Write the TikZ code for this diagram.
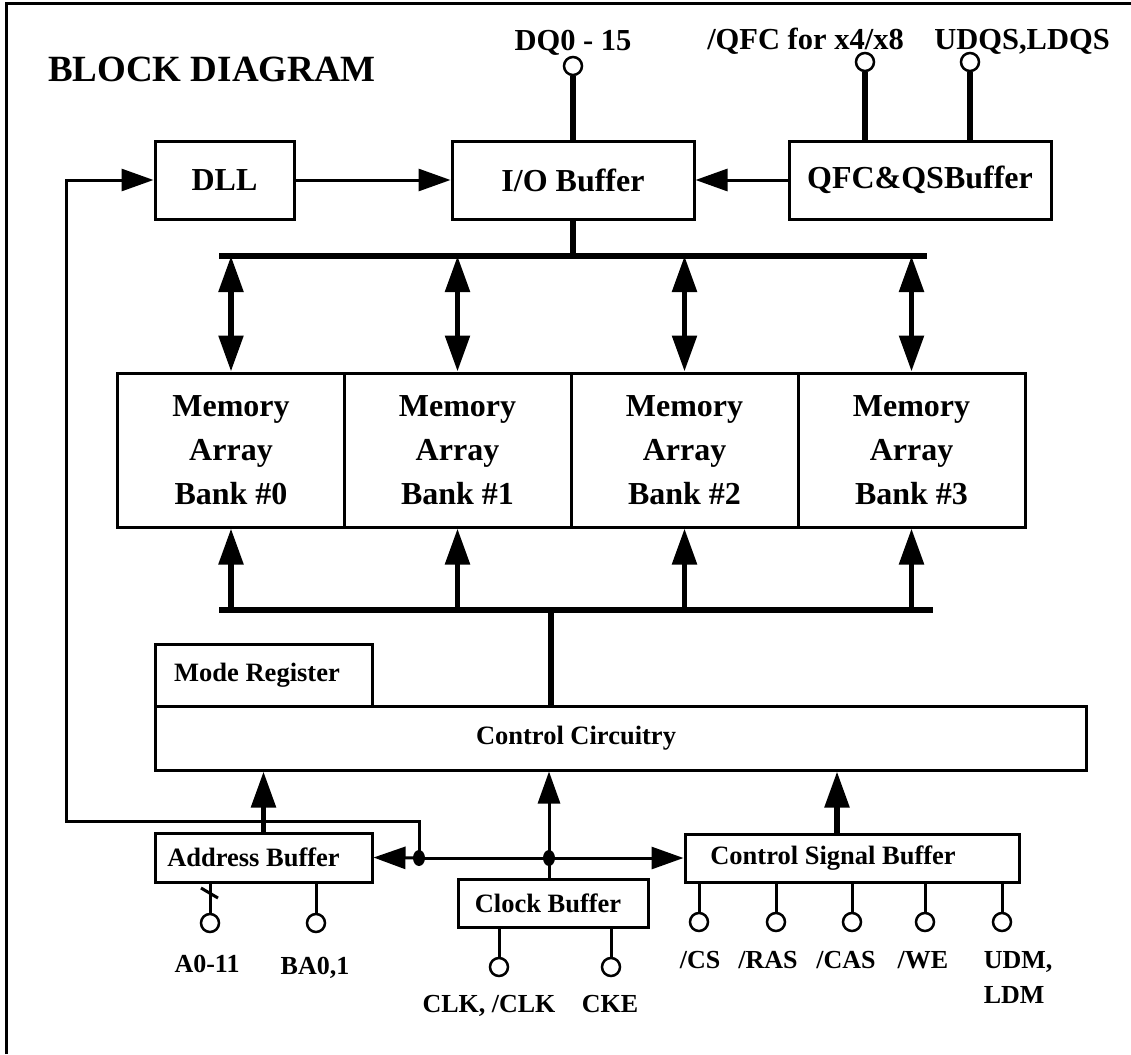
\documentclass[tikz,border=0pt]{standalone}
\usepackage{fontspec}
\setmainfont{Liberation Serif}
\usetikzlibrary{arrows.meta}

\newcommand{\szTitle}{\fontsize{37}{44}\selectfont\bfseries}
\newcommand{\szBox}{\fontsize{32}{44}\selectfont\bfseries}
\newcommand{\szPin}{\fontsize{30.5}{36}\selectfont\bfseries}
\newcommand{\szMid}{\fontsize{26.5}{32}\selectfont\bfseries}
\newcommand{\szLow}{\fontsize{26}{32}\selectfont\bfseries}

\begin{document}
\begin{tikzpicture}[x=1pt, y=-1pt, line width=3pt, >={Triangle[length=32pt,width=22pt]},
    box/.style={draw, line width=3pt, inner sep=0pt},
    pad/.style={circle, draw, line width=2.5pt, fill=white, minimum size=18pt, inner sep=0pt},
    thk/.style={line width=5.5pt, >={Triangle[length=36pt,width=24pt]}},
    bus/.style={line width=6.5pt}]
    \useasboundingbox (0,0) rectangle (1131,1054);
    % frame and title
    \draw (6,1054) -- (6,4) -- (1131,4);
    \node[font=\szTitle, anchor=base] (ttl) at (212,82) {BLOCK DIAGRAM};

    % top row
    \node[box, minimum width=139pt, minimum height=78pt, font=\szBox] (dll) at (224.5,180) {DLL};
    \node[box, minimum width=242pt, minimum height=78pt, font=\szBox] (io) at (573,180) {I/O Buffer};
    \node[box, minimum width=262pt, minimum height=78pt, font=\szBox] (qfc) at (920,180) {QFC\&QSBuffer};
    \draw[->] (dll) -- (io);
    \draw[->] (qfc) -- (io);

    % top pins
    \node[pad] (dq) at (573,66) {};
    \node[pad] (qf) at (865,62) {};
    \node[pad] (qs) at (970,62) {};
    \draw[thk] (dq) -- (io);
    \draw[thk] (qf) -- (qf |- qfc.north);
    \draw[thk] (qs) -- (qs |- qfc.north);
    \node[font=\szPin, anchor=base] (dqt) at (573,51) {DQ0 - 15};
    \node[font=\szPin, anchor=base] (qft) at (805.5,50) {/QFC for x4/x8};
    \node[font=\szPin, anchor=base] (qst) at (1022,50) {UDQS,LDQS};

    % memory banks
    \foreach \i/\x in {0/231,1/457.5,2/684.5,3/911.5}
        \node[box, minimum width=227pt, minimum height=154pt, align=center, font=\szBox] (bank\i) at (\x,450) {Memory\\Array\\Bank \#\i};

    % data bus
    \coordinate (tbl) at (219,256);
    \coordinate (tbr) at (927,256);
    \draw[bus] (tbl) -- (tbr);
    \draw[thk] (io.south) -- (io.south |- tbl);
    \foreach \i in {0,...,3}
        \draw[thk,<->] (bank\i.north |- tbl) -- (bank\i.north);

    % address bus
    \coordinate (bbl) at (219,610);
    \coordinate (bbr) at (933,610);
    \draw[bus] (bbl) -- (bbr);
    \foreach \i in {0,...,3}
        \draw[thk,->] (bank\i.south |- bbl) -- (bank\i.south);

    % control
    \node[box, minimum width=931pt, minimum height=64pt, font=\szMid] (ctrl) at (620.5,738) {Control Circuitry\hspace*{89pt}};
    \node[box, minimum width=217pt, minimum height=62pt, font=\szMid] (mode) at (263.5,675) {Mode Register\hspace*{13pt}};
    \coordinate (bm) at (551,610);
    \draw[thk] (bm) -- (bm |- ctrl.north);

    % buffers
    \node[box, minimum width=217pt, minimum height=49pt, font=\szMid] (addr) at (263.5,857.5) {Address Buffer\hspace*{20pt}};
    \node[box, minimum width=190pt, minimum height=48pt, font=\szMid] (clk) at (553,903) {Clock Buffer\hspace*{10pt}};
    \node[box, minimum width=334pt, minimum height=48pt, font=\szMid] (csb) at (852,858) {Control Signal Buffer\hspace*{38pt}};
    \draw[thk,->] (addr.north) -- (addr.north |- ctrl.south);
    \coordinate (cu) at ([xshift=-15pt]csb.north);
    \draw[thk,->] (cu) -- (cu |- ctrl.south);

    % clock distribution
    \coordinate (j1) at (419,858);
    \coordinate (j2) at (549,858);
    \coordinate (lp) at (66,821);
    \draw[->] (j1) -- (addr.east);
    \draw (j1) -- (j2);
    \draw[->] (j2) -- (csb.west);
    \draw (j2 |- clk.north) -- (j2);
    \draw[->] (j2) -- (j2 |- ctrl.south);
    \draw[->] (j1) |- (lp) |- (dll.west);
    \fill (j1) ellipse [x radius=6, y radius=8];
    \fill (j2) ellipse [x radius=6, y radius=8];

    % address pins
    \node[pad] (a0) at (210,923) {};
    \node[pad] (ba) at (316,923) {};
    \draw (a0) -- (a0 |- addr.south);
    \draw (ba) -- (ba |- addr.south);
    \coordinate (sl1) at (201,888);
    \coordinate (sl2) at (218,898);
    \draw[line width=3pt] (sl1) -- (sl2);
    \node[font=\szLow, anchor=base] (a0t) at (207,972) {A0-11};
    \node[font=\szLow, anchor=base] (bat) at (315,974) {BA0,1};

    % clock pins
    \node[pad] (ck) at (499,967) {};
    \node[pad] (ke) at (611,967) {};
    \draw (ck) -- (ck |- clk.south);
    \draw (ke) -- (ke |- clk.south);
    \node[font=\szLow, anchor=base] (ckt) at (489,1012) {CLK, /CLK};
    \node[font=\szLow, anchor=base] (ket) at (610,1012) {CKE};

    % control pins
    \foreach \n/\x in {cs/699,ras/776,cas/852,we/925,dm/1002} {
        \node[pad] (\n) at (\x,922) {};
        \draw (\n) -- (\n |- csb.south);
    }
    \node[font=\szLow, anchor=base] (cst) at (700,968) {/CS};
    \node[font=\szLow, anchor=base] (rast) at (768,968) {/RAS};
    \node[font=\szLow, anchor=base] (cast) at (846,968) {/CAS};
    \node[font=\szLow, anchor=base] (wet) at (923,968) {/WE};
    \node[font=\szLow, anchor=base west] (udmt) at (979,968) {UDM,};
    \node[font=\szLow, anchor=base west] (ldmt) at (979,1003) {LDM};
\end{tikzpicture}
\end{document}
